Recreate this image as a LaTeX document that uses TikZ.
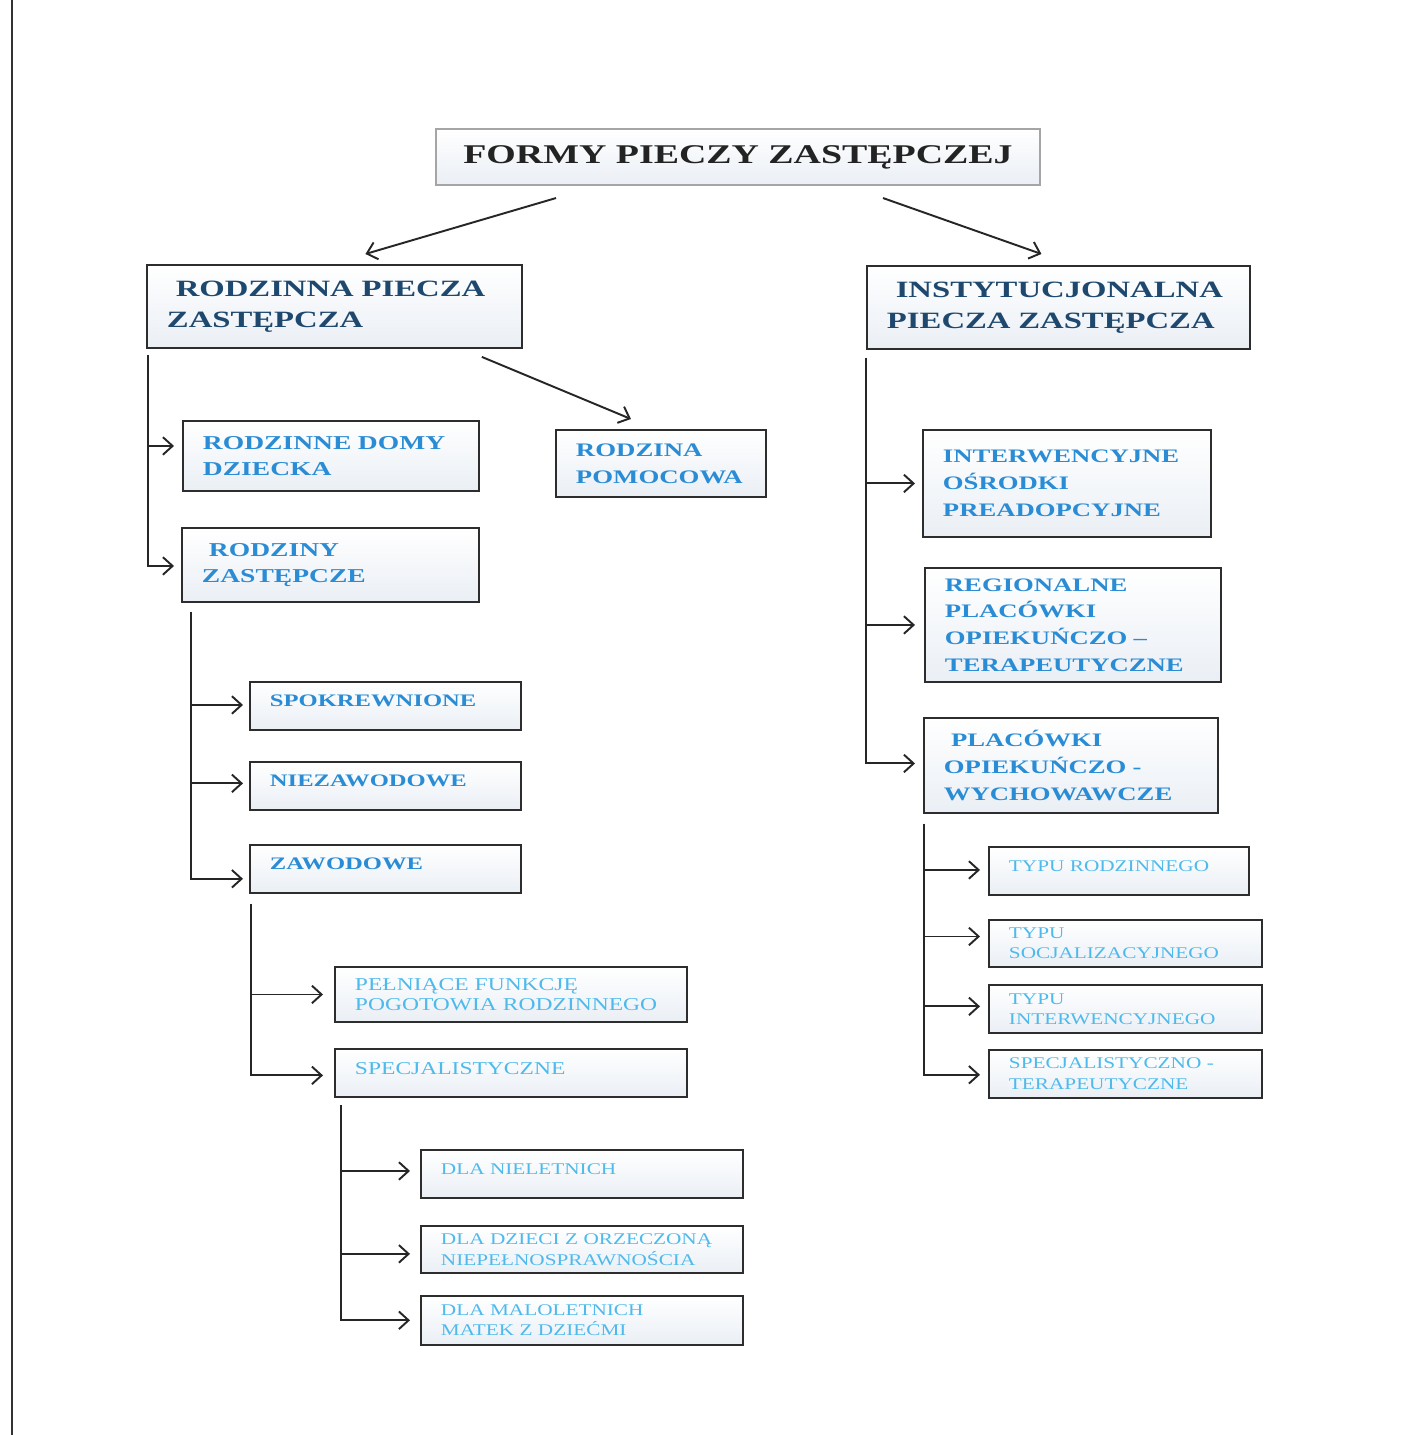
\documentclass[tikz,border=0pt]{standalone}
\usepackage{fontspec}
\setmainfont{Liberation Serif}
\newfontfamily\wideserif[FakeStretch=1.4]{Liberation Serif}
\newfontfamily\wideplain[FakeStretch=1.3]{Liberation Serif}
\usetikzlibrary{positioning, arrows.meta}

\definecolor{titletext}{RGB}{35,35,35}
\definecolor{titleline}{RGB}{165,165,165}
\definecolor{boxline}{RGB}{45,45,45}
\definecolor{boxfill}{RGB}{234,239,245}
\definecolor{oneblue}{RGB}{30,72,110}
\definecolor{twoblue}{RGB}{42,140,212}
\definecolor{threeblue}{RGB}{78,186,236}

\tikzset{
    box/.style={rectangle, draw=boxline, line width=1.1pt, top color=white, bottom color=boxfill,
        inner xsep=0.4cm, inner ysep=0pt, align=left, anchor=north west},
    titlebox/.style={rectangle, draw=titleline, line width=1.2pt, top color=white, bottom color=boxfill,
        align=center, text=titletext, font=\wideserif\bfseries\fontsize{15.4}{18}\selectfont},
    lvlone/.style={box, text=oneblue, font=\wideserif\bfseries\fontsize{13.3}{17.6}\selectfont},
    lvltwo/.style={box, text=twoblue, font=\wideserif\bfseries\fontsize{#1}{15.2}\selectfont},
    lvlthree/.style={box, text=threeblue, font=\wideplain\fontsize{#1}{11.6}\selectfont},
    oneline/.style={text depth=6pt},
    link/.style={draw=black!85, line width=1.1pt, -{Straight Barb[length=5.5pt,width=10pt]}}
}

\begin{document}
\begin{tikzpicture}[x=0.02cm, y=-0.02cm]
    \useasboundingbox (0,0) rectangle (1407,1435);

    % page edge
    \draw[black!80, line width=1.2pt] (12,0) -- (12,1435);

    %-----Boxes-----
    % Title
    \node [titlebox, minimum width=12.08cm, minimum height=1.12cm] (formy) at (738,157) {FORMY PIECZY ZASTĘPCZEJ};

    % Rodzinna piecza
    \node [lvlone, minimum width=7.5cm, minimum height=1.66cm, text width=6.7cm] (rodzinna) at (146,264) {%
        \hspace*{5pt}RODZINNA PIECZA\\ZASTĘPCZA};

    % Instytucjonalna piecza
    \node [lvlone, minimum width=7.66cm, minimum height=1.66cm, text width=6.86cm] (instyt) at (866,265) {%
        \hspace*{5pt}INSTYTUCJONALNA\\PIECZA ZASTĘPCZA};

    % Rodzinne domy dziecka
    \node [lvltwo=11.2, minimum width=5.92cm, minimum height=1.4cm, text width=5.12cm] (domy) at (182,420) {%
        RODZINNE DOMY\\DZIECKA};

    % Rodzina pomocowa
    \node [lvltwo=10.9, minimum width=4.2cm, minimum height=1.34cm, text width=3.4cm] (pomoc) at (555,429) {%
        RODZINA\\POMOCOWA};

    % Rodziny zastepcze
    \node [lvltwo=11.2, minimum width=5.94cm, minimum height=1.48cm, text width=5.14cm] (rodziny) at (181,527) {%
        \hspace*{4pt}RODZINY\\ZASTĘPCZE};

    % Spokrewnione / niezawodowe / zawodowe
    \node [lvltwo=10, oneline, minimum width=5.42cm, minimum height=0.96cm, text width=4.62cm] (spokr) at (249,681) {SPOKREWNIONE};
    \node [lvltwo=10, oneline, minimum width=5.42cm, minimum height=0.96cm, text width=4.62cm, below=0.61cm of spokr] (niezaw) {NIEZAWODOWE};
    \node [lvltwo=10, oneline, minimum width=5.42cm, minimum height=0.96cm, text width=4.62cm, below=0.65cm of niezaw] (zaw) {ZAWODOWE};

    % Zawodowe children
    \node [lvlthree=10.3, minimum width=7.04cm, minimum height=1.1cm, text width=6.24cm] (pogot) at (334,966) {%
        PEŁNIĄCE FUNKCJĘ\\POGOTOWIA RODZINNEGO};
    \node [lvlthree=10.3, oneline, minimum width=7.04cm, minimum height=0.96cm, text width=6.24cm, below=0.51cm of pogot] (specj) {SPECJALISTYCZNE};

    % Specjalistyczne children
    \node [lvlthree=9.3, oneline, minimum width=6.44cm, minimum height=0.96cm, text width=5.64cm] (nielet) at (420,1149) {DLA NIELETNICH};
    \node [lvlthree=9.3, minimum width=6.44cm, minimum height=0.94cm, text width=5.64cm, below=0.53cm of nielet] (orzecz) {%
        DLA DZIECI Z ORZECZONĄ\\NIEPEŁNOSPRAWNOŚCIA};
    \node [lvlthree=9.3, minimum width=6.44cm, minimum height=0.98cm, text width=5.64cm, below=0.41cm of orzecz] (matek) {%
        DLA MALOLETNICH\\MATEK Z DZIEĆMI};

    % Instytucjonalna children
    \node [lvltwo=10.85, minimum width=5.76cm, minimum height=2.14cm, text width=4.96cm] (osrodki) at (922,429) {%
        INTERWENCYJNE\\OŚRODKI\\PREADOPCYJNE};
    \node [lvltwo=10.85, minimum width=5.92cm, minimum height=2.28cm, text width=5.12cm] (region) at (924,567) {%
        REGIONALNE\\PLACÓWKI\\OPIEKUŃCZO –\\TERAPEUTYCZNE};
    \node [lvltwo=10.85, minimum width=5.88cm, minimum height=1.9cm, text width=5.08cm] (placowki) at (923,717) {%
        \hspace*{4pt}PLACÓWKI\\OPIEKUŃCZO -\\WYCHOWAWCZE};

    % Placowki children
    \node [lvlthree=9.3, oneline, minimum width=5.2cm, minimum height=0.96cm, text width=4.4cm] (trodz) at (988,846) {TYPU RODZINNEGO};
    \node [lvlthree=9.3, minimum width=5.46cm, minimum height=0.94cm, text width=4.66cm] (tsocj) at (988,919) {%
        TYPU\\SOCJALIZACYJNEGO};
    \node [lvlthree=9.3, minimum width=5.46cm, minimum height=0.96cm, text width=4.66cm, below=0.33cm of tsocj] (tinterw) {%
        TYPU\\INTERWENCYJNEGO};
    \node [lvlthree=9.3, minimum width=5.46cm, minimum height=0.96cm, text width=4.66cm, below=0.29cm of tinterw] (tspecj) {%
        SPECJALISTYCZNO -\\TERAPEUTYCZNE};

    %-----Arrows-----
    \draw[link] ([shift={(-182,12)}]formy.south) -- ([shift={(31,-10)}]rodzinna.north);
    \draw[link] ([shift={(145,12)}]formy.south) -- ([shift={(-17,-11)}]instyt.north);
    \draw[link] ([shift={(-41,8)}]rodzinna.south east) -- ([shift={(-30,-10)}]pomoc.north);

    % rodzinna tree
    \draw[link] ([shift={(2,6)}]rodzinna.south west) |- ([shift={(-8,-10)}]domy.west);
    \draw[link] ([shift={(2,6)}]rodzinna.south west) |- ([shift={(-7,1)}]rodziny.west);

    % rodziny tree
    \draw[link] ([shift={(10,9)}]rodziny.south west) |- ([shift={(-6,-1)}]spokr.west);
    \draw[link] ([shift={(10,9)}]rodziny.south west) |- ([shift={(-6,-3)}]niezaw.west);
    \draw[link] ([shift={(10,9)}]rodziny.south west) |- ([shift={(-6,10)}]zaw.west);

    % zawodowe tree
    \draw[link] ([shift={(2,10)}]zaw.south west) |- ([shift={(-11,0)}]pogot.west);
    \draw[link] ([shift={(2,10)}]zaw.south west) |- ([shift={(-11,2)}]specj.west);

    % specjalistyczne tree
    \draw[link] ([shift={(7,7)}]specj.south west) |- ([shift={(-10,-3)}]nielet.west);
    \draw[link] ([shift={(7,7)}]specj.south west) |- ([shift={(-10,4)}]orzecz.west);
    \draw[link] ([shift={(7,7)}]specj.south west) |- ([shift={(-10,0)}]matek.west);

    % instytucjonalna tree
    \draw[link] ([shift={(0,8)}]instyt.south west) |- ([shift={(-7,0)}]osrodki.west);
    \draw[link] ([shift={(0,8)}]instyt.south west) |- ([shift={(-9,0)}]region.west);
    \draw[link] ([shift={(0,8)}]instyt.south west) |- ([shift={(-8,-2)}]placowki.west);

    % placowki tree
    \draw[link] ([shift={(1,10)}]placowki.south west) |- ([shift={(-8,-1)}]trodz.west);
    \draw[link] ([shift={(1,10)}]placowki.south west) |- ([shift={(-8,-7)}]tsocj.west);
    \draw[link] ([shift={(1,10)}]placowki.south west) |- ([shift={(-8,-3)}]tinterw.west);
    \draw[link] ([shift={(1,10)}]placowki.south west) |- ([shift={(-8,1)}]tspecj.west);

\end{tikzpicture}
\end{document}
